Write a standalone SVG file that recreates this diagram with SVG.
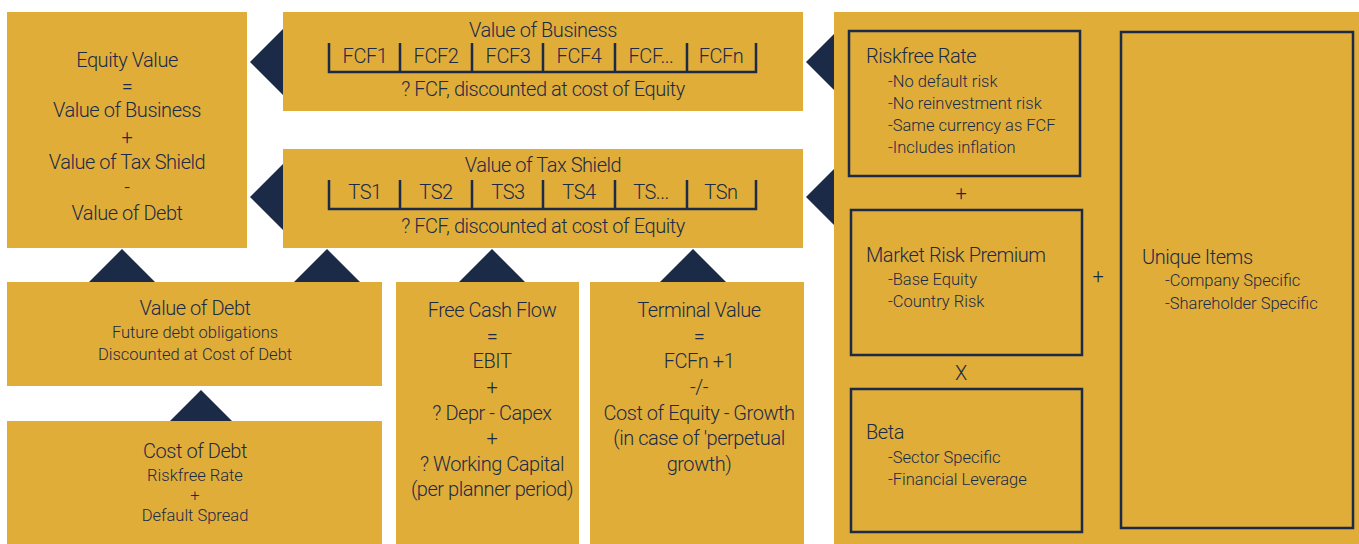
<svg xmlns="http://www.w3.org/2000/svg" width="1359" height="544" viewBox="0 0 1359 544">
<style>
.box{fill:#e0ad38}
.ibox{fill:none;stroke:#1b2a47;stroke-width:2.5}
.tri{fill:#1b2a47}
.tbl{fill:none;stroke:#1b2a47;stroke-width:2.5}
text{font-family:Roboto,"Liberation Sans",sans-serif;font-weight:300;fill:#1b2a47}
.t{font-size:20px;letter-spacing:-0.45px}
.s{font-size:16.5px}
.c{text-anchor:middle}
</style>
<rect width="1359" height="544" fill="#ffffff"/>
<g id="connectors">
<polygon class="tri" points="283,29 250,62 283,95"/>
<polygon class="tri" points="283,164 250,197 283,230"/>
<polygon class="tri" points="839,29 806,62 839,95"/>
<polygon class="tri" points="839,164 806,197 839,230"/>
<polygon class="tri" points="89,282 122,249 155,282"/>
<polygon class="tri" points="294,282 327,249 360,282"/>
<polygon class="tri" points="459,282 492,249 525,282"/>
<polygon class="tri" points="660,282 693,249 726,282"/>
<polygon class="tri" points="170,421 201,390 232,421"/>
</g>
<g id="equity-value">
<rect class="box" x="7" y="12" width="240" height="236"/>
<text class="t c" x="127" y="67">Equity Value</text>
<text class="t c" x="127" y="93">=</text>
<text class="t c" x="127" y="117">Value of Business</text>
<text class="t c" x="127" y="144">+</text>
<text class="t c" x="127" y="169">Value of Tax Shield</text>
<text class="t c" x="127" y="194">-</text>
<text class="t c" x="127" y="220">Value of Debt</text>
</g>
<g id="value-of-business">
<rect class="box" x="283" y="12" width="520" height="99"/>
<text class="t c" x="543" y="37">Value of Business</text>
<path class="tbl" d="M329,43V72H756V43M400,43V72M472,43V72M543,43V72M615,43V72M687,43V72"/>
<text class="t c" x="365" y="63">FCF1</text>
<text class="t c" x="436" y="63">FCF2</text>
<text class="t c" x="508" y="63">FCF3</text>
<text class="t c" x="579" y="63">FCF4</text>
<text class="t c" x="651" y="63">FCF...</text>
<text class="t c" x="721" y="63">FCFn</text>
<text class="t c" x="543" y="96">? FCF, discounted at cost of Equity</text>
</g>
<g id="value-of-tax-shield">
<rect class="box" x="283" y="149" width="520" height="99"/>
<text class="t c" x="543" y="172">Value of Tax Shield</text>
<path class="tbl" d="M329,180V209H756V180M400,180V209M472,180V209M543,180V209M615,180V209M687,180V209"/>
<text class="t c" x="365" y="199">TS1</text>
<text class="t c" x="436" y="199">TS2</text>
<text class="t c" x="508" y="199">TS3</text>
<text class="t c" x="579" y="199">TS4</text>
<text class="t c" x="651" y="199">TS...</text>
<text class="t c" x="721" y="199">TSn</text>
<text class="t c" x="543" y="233">? FCF, discounted at cost of Equity</text>
</g>
<g id="value-of-debt">
<rect class="box" x="7" y="282" width="375" height="104"/>
<text class="t c" x="195" y="315">Value of Debt</text>
<text class="s c" x="195" y="338">Future debt obligations</text>
<text class="s c" x="195" y="360">Discounted at Cost of Debt</text>
</g>
<g id="cost-of-debt">
<rect class="box" x="7" y="421" width="375" height="123"/>
<text class="t c" x="195" y="458">Cost of Debt</text>
<text class="s c" x="195" y="481">Riskfree Rate</text>
<text class="s c" x="195" y="501">+</text>
<text class="s c" x="195" y="521">Default Spread</text>
</g>
<g id="free-cash-flow">
<rect class="box" x="396" y="282" width="183" height="262"/>
<text class="t c" x="492" y="317">Free Cash Flow</text>
<text class="t c" x="492" y="343">=</text>
<text class="t c" x="492" y="368">EBIT</text>
<text class="t c" x="492" y="394">+</text>
<text class="t c" x="492" y="420">? Depr - Capex</text>
<text class="t c" x="492" y="445">+</text>
<text class="t c" x="492" y="471">? Working Capital</text>
<text class="t c" x="492" y="496">(per planner period)</text>
</g>
<g id="terminal-value">
<rect class="box" x="590" y="282" width="214" height="262"/>
<text class="t c" x="699" y="317">Terminal Value</text>
<text class="t c" x="699" y="343">=</text>
<text class="t c" x="699" y="368">FCFn +1</text>
<text class="t c" x="699" y="394">-/-</text>
<text class="t c" x="699" y="420">Cost of Equity - Growth</text>
<text class="t c" x="699" y="445">(in case of 'perpetual</text>
<text class="t c" x="699" y="471">growth)</text>
</g>
<g id="cost-of-equity">
<rect class="box" x="834" y="12" width="525" height="532"/>
<g id="riskfree-rate">
<rect class="ibox" x="849" y="31" width="231" height="145"/>
<text class="t" x="866" y="63">Riskfree Rate</text>
<text class="s" x="888" y="87">-No default risk</text>
<text class="s" x="888" y="109">-No reinvestment risk</text>
<text class="s" x="888" y="131">-Same currency as FCF</text>
<text class="s" x="888" y="153">-Includes inflation</text>
</g>
<text class="t c" x="961" y="200">+</text>
<g id="market-risk-premium">
<rect class="ibox" x="851" y="210" width="231" height="145"/>
<text class="t" x="866" y="262">Market Risk Premium</text>
<text class="s" x="888" y="285">-Base Equity</text>
<text class="s" x="888" y="307">-Country Risk</text>
</g>
<text class="t c" x="961" y="380">X</text>
<g id="beta">
<rect class="ibox" x="851" y="389" width="231" height="143"/>
<text class="t" x="866" y="439">Beta</text>
<text class="s" x="888" y="463">-Sector Specific</text>
<text class="s" x="888" y="485">-Financial Leverage</text>
</g>
<text class="t c" x="1098" y="283">+</text>
<g id="unique-items">
<rect class="ibox" x="1121" y="32" width="232" height="496"/>
<text class="t" x="1142" y="264">Unique Items</text>
<text class="s" x="1165" y="286">-Company Specific</text>
<text class="s" x="1165" y="309">-Shareholder Specific</text>
</g>
</g>
</svg>
